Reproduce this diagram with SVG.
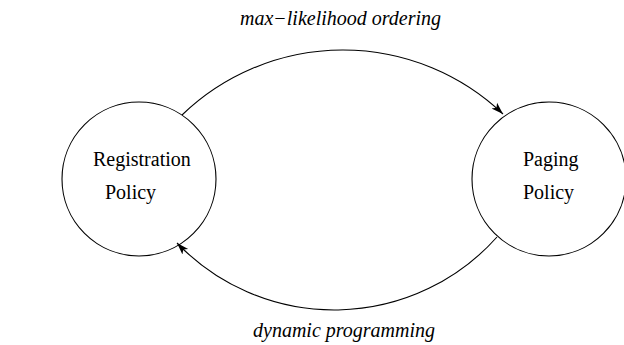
<svg xmlns="http://www.w3.org/2000/svg" width="624" height="345" viewBox="0 0 624 345">
<style>
.node{fill:none;stroke:#000;stroke-width:1.1}
.lbl{font-family:"Liberation Serif","Times New Roman",serif;font-size:20px;fill:#000}
.it{font-family:"Liberation Serif","Times New Roman",serif;font-size:20px;font-style:italic;fill:#000}
.edge{fill:none;stroke:#000;stroke-width:1.1}
</style>
<defs>
<marker id="ah" markerUnits="userSpaceOnUse" markerWidth="14" markerHeight="10" refX="12" refY="5" orient="auto">
<path d="M0,1 L12,5 L0,9 L3,5 Z" fill="#000"/>
</marker>
</defs>
<rect width="624" height="345" fill="#fff"/>
<g id="registration">
<circle class="node" cx="139" cy="179" r="77"/>
<text class="lbl" x="93" y="166">Registration</text>
<text class="lbl" x="105" y="199">Policy</text>
</g>
<g id="paging">
<circle class="node" cx="549" cy="179" r="77"/>
<text class="lbl" x="523" y="166">Paging</text>
<text class="lbl" x="523" y="199">Policy</text>
</g>
<g id="connectors">
<path class="edge" d="M182,115 A232,232 0 0 1 503,114" marker-end="url(#ah)"/>
<path class="edge" d="M497,237 A218,218 0 0 1 177,243" marker-end="url(#ah)"/>
<text class="it" x="240" y="25">max−likelihood ordering</text>
<text class="it" x="253" y="337">dynamic programming</text>
</g>
</svg>
